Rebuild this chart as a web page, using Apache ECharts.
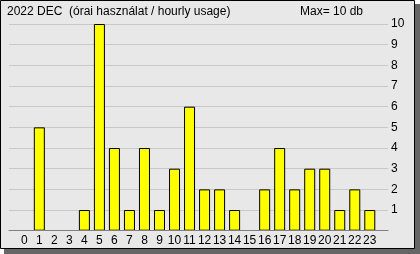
<!DOCTYPE html>
<html><head><meta charset="utf-8">
<script src="https://cdn.jsdelivr.net/npm/echarts@6/dist/echarts.min.js"></script>
<style>html,body{margin:0;padding:0;background:#fff}#c{width:420px;height:254px}</style>
</head><body><div id="c"></div>
<script>
const hours = ['0','1','2','3','4','5','6','7','8','9','10','11','12','13','14','15','16','17','18','19','20','21','22','23'];
const usage = [0,5,0,0,1,10,4,1,4,1,3,6,2,2,1,0,2,4,2,3,3,1,2,1];
const yTicks = [1,2,3,4,5,6,7,8,9,10];
const titleText = '2022 DEC  (órai használat / hourly usage)';
const maxText = 'Max= 10 db';

const font = 'Liberation Sans, Arial, sans-serif';
const chart = echarts.init(document.getElementById('c'), null, {renderer:'canvas'});
chart.setOption({
  animation:false,
  backgroundColor:'#ffffff',
  graphic:[
    {type:'rect', z:-10, shape:{x:4,y:4,width:416,height:250}, style:{fill:'#666666'}, silent:true},
    {type:'rect', z:-9, shape:{x:0.5,y:0.5,width:414,height:248}, style:{fill:'#e8e8e8',stroke:'#000',lineWidth:1}, silent:true},
    {type:'text', left:7, top:6, style:{text:titleText, font:'12px '+font, fill:'#000'}},
    {type:'text', left:300, top:6, style:{text:maxText, font:'12px '+font, fill:'#000'}}
  ],
  grid:[
    {left:9, width:379, top:24, bottom:23.3},
    {left:16.8, width:360.5, top:24, bottom:23.3}
  ],
  xAxis:[
    {type:'value', gridIndex:0, min:0, max:1, z:5, axisLine:{show:true, onZero:false, lineStyle:{color:'#808080', width:1}}, axisTick:{show:false}, axisLabel:{show:false}, splitLine:{show:false}},
    {type:'category', gridIndex:1, data:hours, boundaryGap:true, axisLine:{show:false}, axisTick:{show:false},
     axisLabel:{color:'#000', fontSize:12, fontFamily:font, margin:4, interval:0}}
  ],
  yAxis:[
    {type:'value', gridIndex:0, position:'right', min:0, max:10, interval:1,
     axisLine:{show:false}, axisTick:{show:false},
     axisLabel:{color:'#000', fontSize:12, fontFamily:font, margin:3,
       formatter:v=> yTicks.includes(v) ? String(v) : ''},
     splitLine:{show:true, lineStyle:{color:'#c8c8c8', width:1}}},
    {type:'value', gridIndex:1, min:0, max:10, interval:1, show:false, splitLine:{show:false}}
  ],
  series:[{
    type:'bar', xAxisIndex:1, yAxisIndex:1, data:usage.map(v => v === 0 ? '-' : v), barWidth:11,
    itemStyle:{color:'#ffff00', borderColor:'#000', borderWidth:1}
  }]
});
</script></body></html>
